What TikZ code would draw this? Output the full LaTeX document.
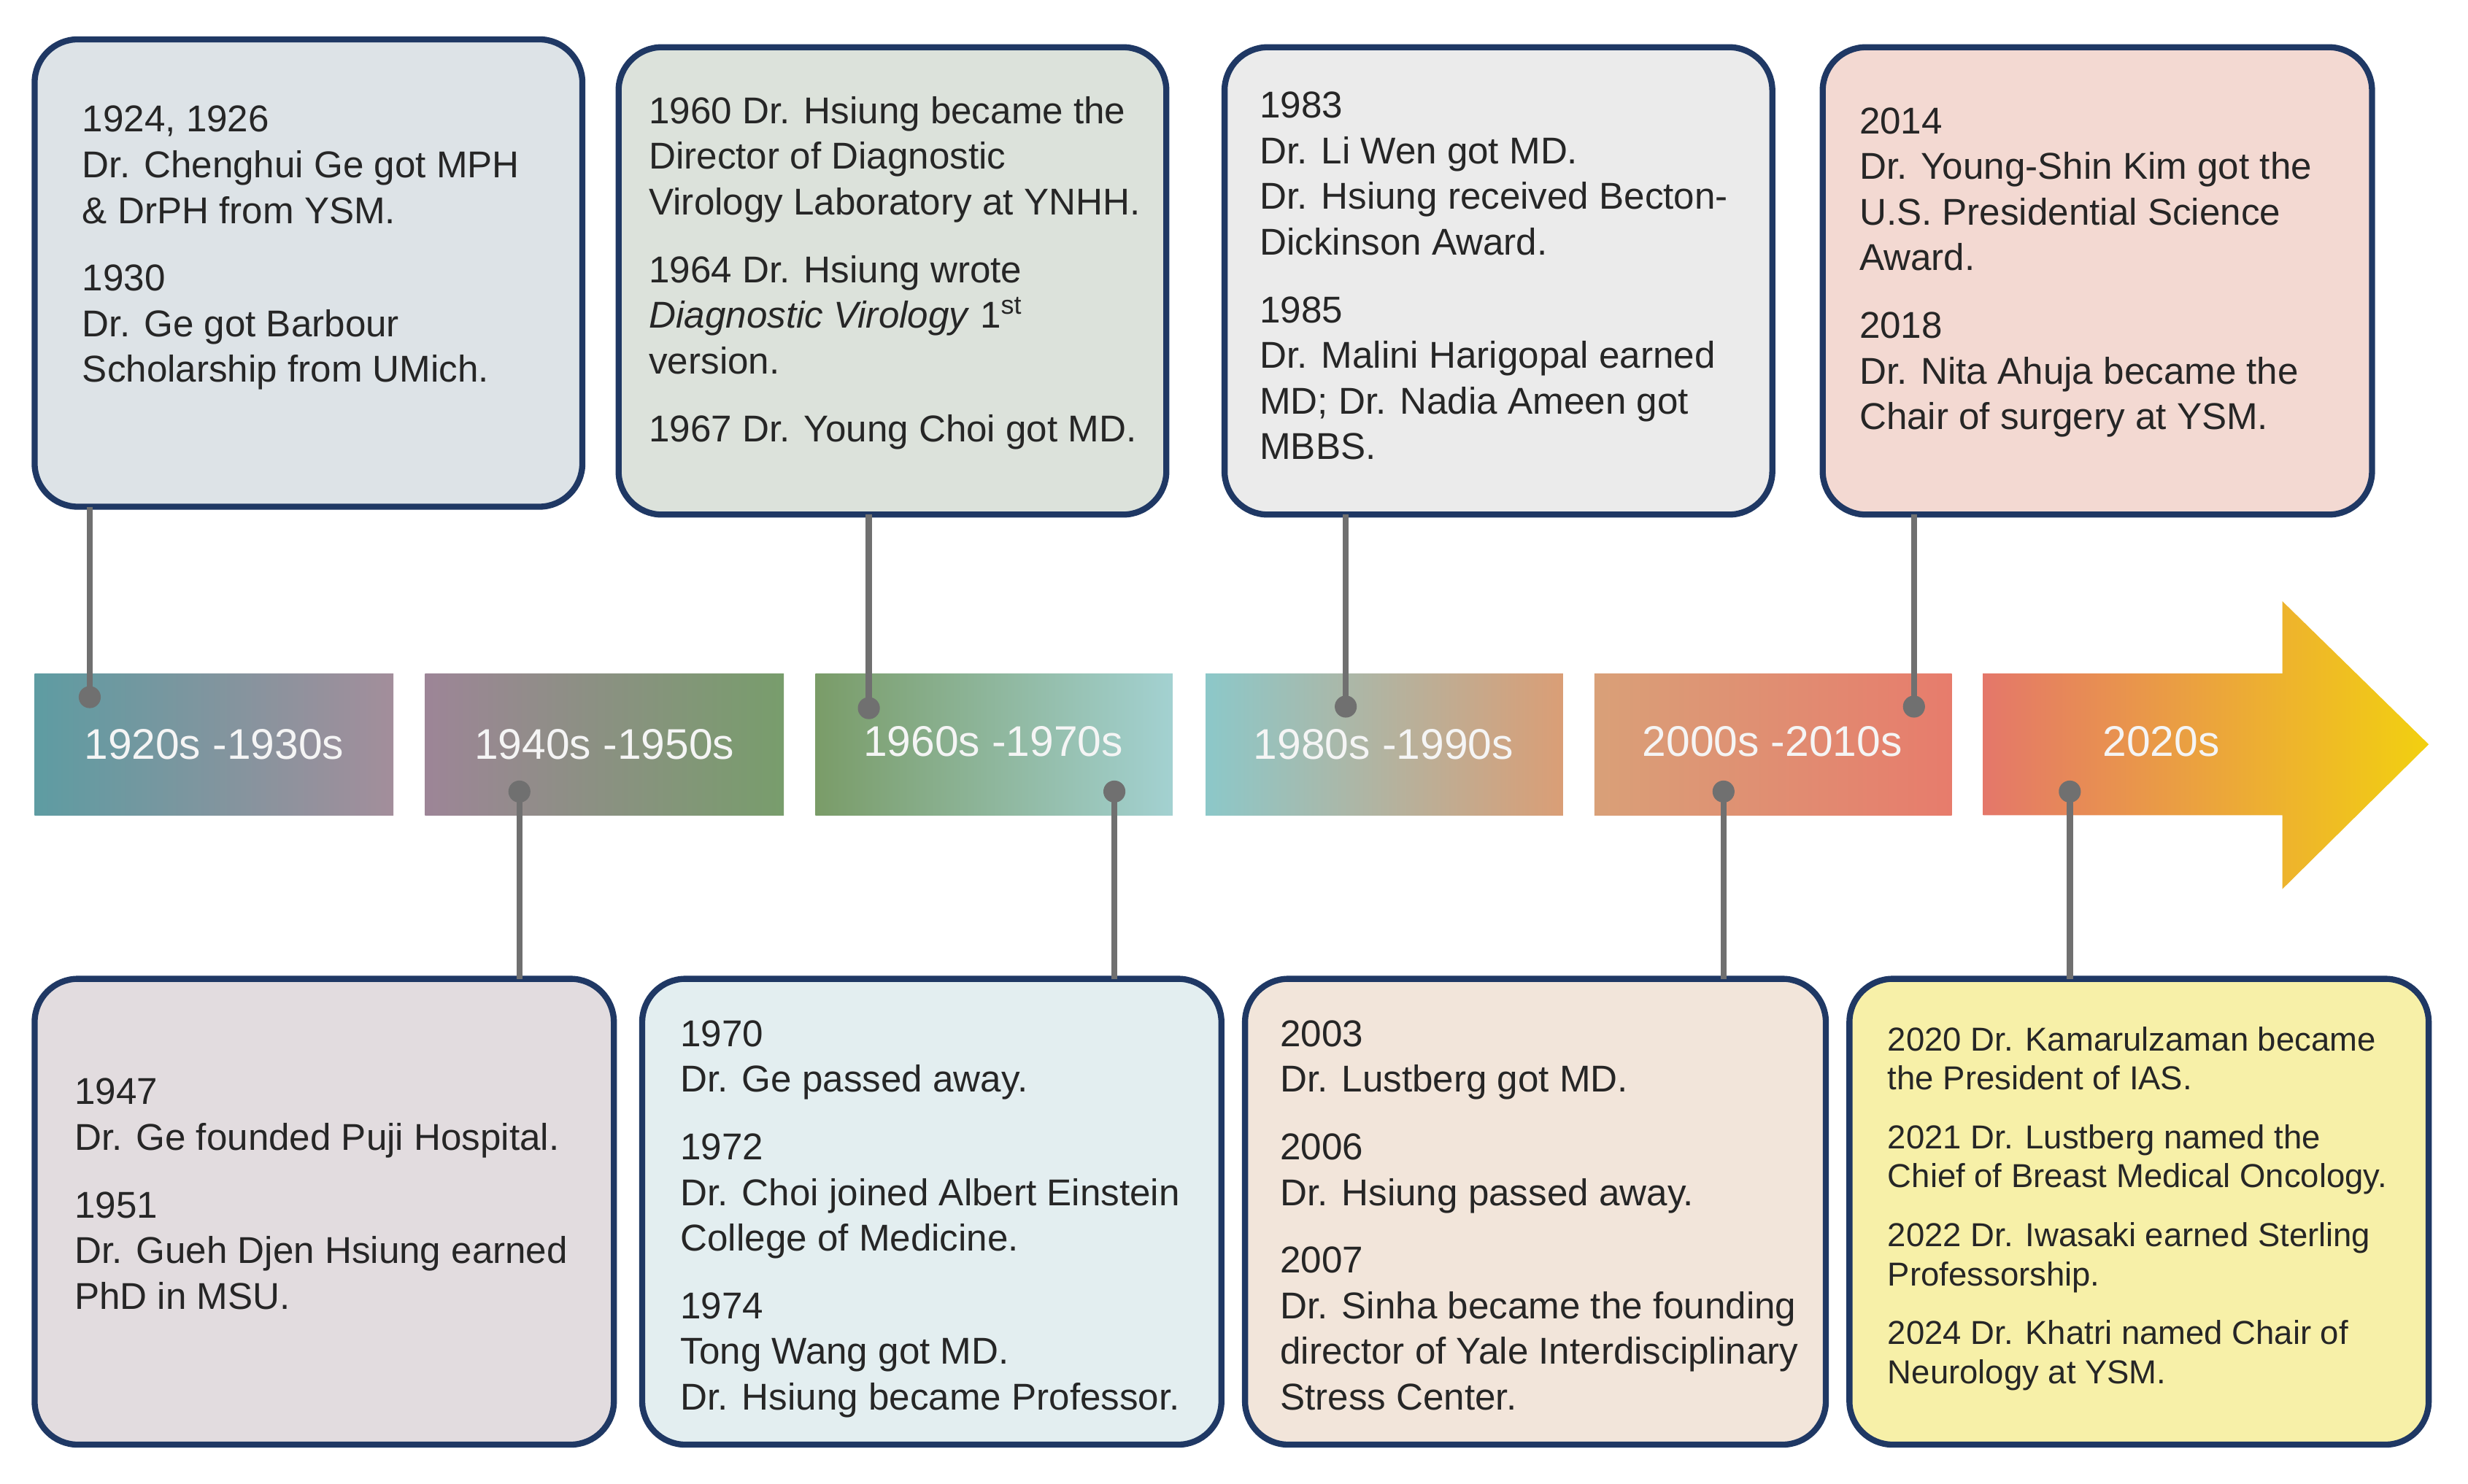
\documentclass[tikz,border=0pt]{standalone}
\usepackage{fontspec}
\setmainfont{Liberation Sans}
\definecolor{navy}{HTML}{1F3864}
\definecolor{conn}{HTML}{707070}
\definecolor{ga}{HTML}{5E9CA2}\definecolor{gb}{HTML}{A38E9B}
\definecolor{gc}{HTML}{9D8597}\definecolor{gd}{HTML}{789D6C}
\definecolor{ge}{HTML}{7A9C68}\definecolor{gf}{HTML}{A3D1D1}
\definecolor{gg}{HTML}{8CC8C9}\definecolor{gh}{HTML}{DA9E76}
\definecolor{gi}{HTML}{D9A078}\definecolor{gj}{HTML}{E77C6C}
\definecolor{gk}{HTML}{E4776A}\definecolor{gl}{HTML}{F2D010}
\definecolor{f1}{RGB}{221,227,231}\definecolor{f2}{RGB}{220,226,219}
\definecolor{f3}{RGB}{235,235,235}\definecolor{f4}{RGB}{243,217,210}
\definecolor{f5}{RGB}{226,220,223}\definecolor{f6}{RGB}{227,238,240}
\definecolor{f7}{RGB}{242,229,218}\definecolor{f8}{RGB}{247,240,168}
\begin{document}
\begin{tikzpicture}[x=0.02cm,y=-0.02cm,
  card/.style={draw=navy,line width=2.2pt,rounded corners=0.55cm},
  txt/.style={anchor=north west,inner sep=0,align=left,text=black!85,font=\fontsize{13.5}{16.5}\selectfont},
  txts/.style={anchor=north west,inner sep=0,align=left,text=black!85,font=\fontsize{12}{14.2}\selectfont},
  era/.style={text=white!92!gray,font=\fontsize{15.5}{18}\selectfont},
  dot/.style={circle,fill=conn,inner sep=0,minimum size=0.28cm},
  link/.style={draw=conn,line width=2.2pt}]
\useasboundingbox[fill=white] (0,0) rectangle (1568,943);
% bars
\shade[left color=ga,right color=gb] (22,428) rectangle (250,518);
\shade[left color=gc,right color=gd] (270,428) rectangle (498,518);
\shade[left color=ge,right color=gf] (518,428) rectangle (745,518);
\shade[left color=gg,right color=gh] (766,428) rectangle (993,518);
\shade[left color=gi,right color=gj] (1013,428) rectangle (1240,518);
\shade[left color=gk,right color=gl] (1260,428) -- (1450,428) -- (1450,382) -- (1543,473) -- (1450,565) -- (1450,518) -- (1260,518) -- cycle;
\node[era] (e1) at (136,473) {1920s -1930s};
\node[era] (e2) at (384,473) {1940s -1950s};
\node[era] (e3) at (631,471) {1960s -1970s};
\node[era] (e4) at (879,473) {1980s -1990s};
\node[era] (e5) at (1126,471) {2000s -2010s};
\node[era] (e6) at (1373,471) {2020s};
% cards
\draw[card,fill=f1] (22,25) rectangle (370,322);
\draw[card,fill=f2] (393,30) rectangle (741,327);
\draw[card,fill=f3] (778,30) rectangle (1126,327);
\draw[card,fill=f4] (1158,30) rectangle (1507,327);
\draw[card,fill=f5] (22,622) rectangle (390,918);
\draw[card,fill=f6] (408,622) rectangle (776,918);
\draw[card,fill=f7] (791,622) rectangle (1160,918);
\draw[card,fill=f8] (1175,622) rectangle (1543,918);
% texts
\node[txt] (t1) at (52,67) {1924, 1926\\Dr. Chenghui Ge got MPH\\\& DrPH from YSM.\\[8pt]1930\\Dr. Ge got Barbour\\Scholarship from UMich.};
\node[txt] (t2) at (412,61) {1960 Dr. Hsiung became the\\Director of Diagnostic\\Virology Laboratory at YNHH.\\[8pt]1964 Dr. Hsiung wrote\\\textit{Diagnostic Virology} 1\textsuperscript{st}\\version.\\[8pt]1967 Dr. Young Choi got MD.};
\node[txt] (t3) at (800,58) {1983\\Dr. Li Wen got MD.\\Dr. Hsiung received Becton-\\Dickinson Award.\\[8pt]1985\\Dr. Malini Harigopal earned\\MD; Dr. Nadia Ameen got\\MBBS.};
\node[txt] (t4) at (1181,68) {2014\\Dr. Young-Shin Kim got the\\U.S. Presidential Science\\Award.\\[8pt]2018\\Dr. Nita Ahuja became the\\Chair of surgery at YSM.};
\node[txt] (t5) at (47,685) {1947\\Dr. Ge founded Puji Hospital.\\[8pt]1951\\Dr. Gueh Djen Hsiung earned\\PhD in MSU.};
\node[txt] (t6) at (432,648) {1970\\Dr. Ge passed away.\\[8pt]1972\\Dr. Choi joined Albert Einstein\\College of Medicine.\\[8pt]1974\\Tong Wang got MD.\\Dr. Hsiung became Professor.};
\node[txt] (t7) at (813,648) {2003\\Dr. Lustberg got MD.\\[8pt]2006\\Dr. Hsiung passed away.\\[8pt]2007\\Dr. Sinha became the founding\\director of Yale Interdisciplinary\\Stress Center.};
\node[txts] (t8) at (1199,652) {2020 Dr. Kamarulzaman became\\the President of IAS.\\[7pt]2021 Dr. Lustberg named the\\Chief of Breast Medical Oncology.\\[7pt]2022 Dr. Iwasaki earned Sterling\\Professorship.\\[7pt]2024 Dr. Khatri named Chair of\\Neurology at YSM.};
% connectors
\coordinate (c1) at (57,322); \coordinate (c2) at (552,327); \coordinate (c3) at (855,327); \coordinate (c4) at (1216,327);
\coordinate (c5) at (330,622); \coordinate (c6) at (708,622); \coordinate (c7) at (1095,622); \coordinate (c8) at (1315,622);
\node[dot] (d1) at (57,443) {}; \node[dot] (d2) at (552,450) {}; \node[dot] (d3) at (855,449) {}; \node[dot] (d4) at (1216,449) {};
\node[dot] (d5) at (330,503) {}; \node[dot] (d6) at (708,503) {}; \node[dot] (d7) at (1095,503) {}; \node[dot] (d8) at (1315,503) {};
\foreach \i in {1,...,8} \draw[link] (c\i) -- (d\i.center);
\end{tikzpicture}
\end{document}
